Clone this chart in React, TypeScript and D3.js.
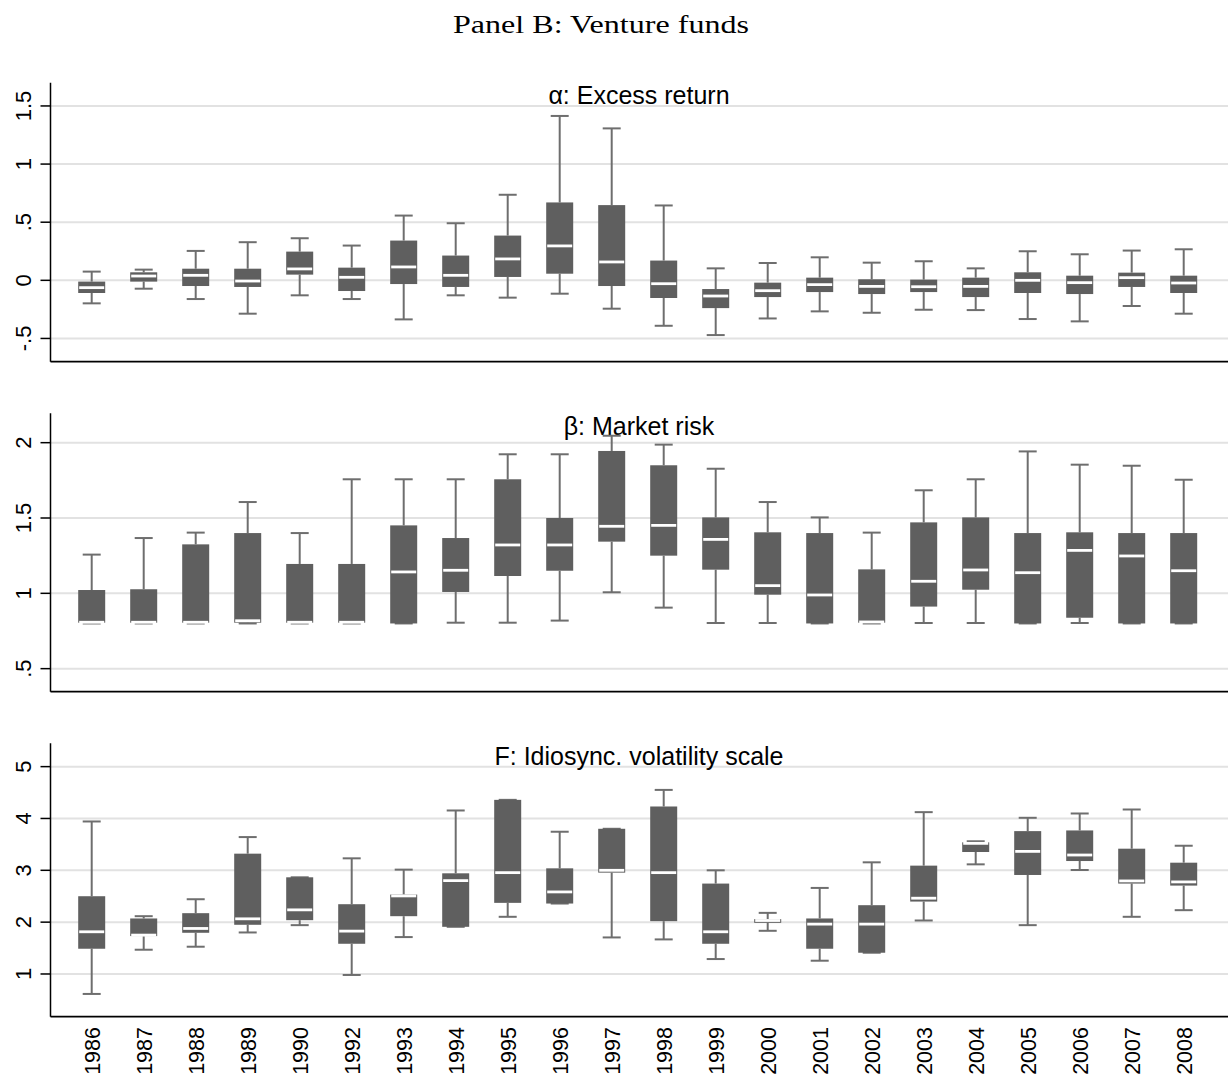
import React from "react";
import * as d3 from "d3";

const years = ["1986","1987","1988","1989","1990","1992","1993","1994","1995","1996","1997","1998","1999","2000","2001","2002","2003","2004","2005","2006","2007","2008"];

// Panel A: alpha (excess return)
const alphaLo  = [-0.198,-0.072,-0.161,-0.287,-0.129,-0.161,-0.336,-0.129,-0.149,-0.115,-0.244,-0.391,-0.471,-0.328,-0.267,-0.279,-0.253,-0.256,-0.333,-0.353,-0.221,-0.287];
const alphaQ1  = [-0.109,-0.011,-0.049,-0.057,0.049,-0.092,-0.032,-0.057,0.029,0.057,-0.049,-0.152,-0.239,-0.144,-0.101,-0.118,-0.101,-0.144,-0.109,-0.118,-0.057,-0.109];
const alphaMed = [-0.063,0.037,0.043,-0.006,0.098,0.026,0.115,0.043,0.184,0.296,0.158,-0.029,-0.135,-0.089,-0.037,-0.052,-0.055,-0.052,0.0,-0.020,0.023,-0.023];
const alphaQ3  = [-0.011,0.069,0.100,0.100,0.247,0.109,0.342,0.213,0.385,0.670,0.647,0.170,-0.075,-0.020,0.023,0.009,0.006,0.023,0.069,0.040,0.066,0.040];
const alphaHi  = [0.075,0.092,0.253,0.328,0.362,0.299,0.557,0.491,0.736,1.414,1.307,0.644,0.103,0.149,0.198,0.152,0.164,0.103,0.250,0.224,0.256,0.267];

// Panel B: beta (market risk)
const betaLo  = [0.80,0.80,0.80,0.80,0.80,0.80,0.80,0.805,0.805,0.819,1.007,0.905,0.803,0.803,0.80,0.80,0.803,0.803,0.80,0.803,0.80,0.80];
const betaQ1  = [0.805,0.805,0.805,0.805,0.805,0.805,0.80,1.009,1.115,1.150,1.343,1.250,1.157,0.991,0.80,0.805,0.912,1.024,0.80,0.838,0.80,0.80];
const betaMed = [0.808,0.808,0.808,0.818,0.808,0.808,1.142,1.153,1.321,1.321,1.445,1.451,1.358,1.051,0.989,0.81,1.080,1.155,1.137,1.285,1.248,1.150];
const betaQ3  = [1.022,1.027,1.325,1.400,1.195,1.195,1.451,1.367,1.757,1.500,1.945,1.850,1.504,1.405,1.400,1.159,1.471,1.504,1.400,1.405,1.400,1.400];
const betaHi  = [1.257,1.367,1.403,1.606,1.400,1.757,1.757,1.757,1.923,1.923,2.046,1.987,1.827,1.606,1.504,1.403,1.684,1.757,1.942,1.854,1.847,1.754];

// Panel C: F (idiosyncratic volatility scale)
const fLo  = [0.615,1.468,1.526,1.801,1.942,0.981,1.712,1.910,2.103,2.359,1.705,1.667,1.288,1.833,1.256,1.410,2.032,3.115,1.942,3.006,2.103,2.231];
const fQ1  = [1.487,1.731,1.795,1.949,2.038,1.583,2.115,1.910,2.372,2.359,2.955,2.019,1.583,1.987,1.487,1.410,2.397,3.353,2.910,3.179,2.744,2.705];
const fMed = [1.814,1.750,1.878,2.064,2.237,1.827,2.506,2.801,2.955,2.583,3.000,2.955,1.814,2.032,1.962,1.962,2.462,3.520,3.365,3.295,2.795,2.776];
const fQ3  = [2.500,2.071,2.173,3.321,2.865,2.346,2.532,2.942,4.359,3.038,3.801,4.231,2.744,2.058,2.071,2.327,3.090,3.540,3.756,3.769,3.417,3.147];
const fHi  = [3.942,2.115,2.442,3.641,2.865,3.231,3.013,4.154,4.359,3.744,3.801,4.551,3.000,2.179,2.660,3.154,4.122,3.560,4.013,4.096,4.173,3.474];

const panelTitles = ["α: Excess return", "β: Market risk", "F: Idiosync. volatility scale"];
const panelDomains: [number, number][] = [[-0.7, 1.7], [0.347, 2.195], [0.176, 5.45]];
const panelTicks = [[-0.5, 0, 0.5, 1, 1.5], [0.5, 1, 1.5, 2], [1, 2, 3, 4, 5]];
const mainTitle = "Panel B: Venture funds";

const W = 1228, H = 1082;
const plotLeft = 50.5, plotRight = 1228;
const panelTops = [82.7, 413.3, 743.3];
const panelBottoms = [361.7, 691.7, 1016.7];

const sans = "'Liberation Sans', Arial, Helvetica, sans-serif";

function fmt(v: number): string {
  let s = String(+v.toFixed(2));
  s = s.replace(/^0\./, ".").replace(/^-0\./, "-.");
  return s;
}

export default function App() {
  const x = d3.scalePoint<string>().domain(years).range([91.7, 1183.7]);
  const boxW = 27, capW = 18;
  const series = [
    [alphaLo, alphaQ1, alphaMed, alphaQ3, alphaHi],
    [betaLo, betaQ1, betaMed, betaQ3, betaHi],
    [fLo, fQ1, fMed, fQ3, fHi],
  ];

  return (
    <svg width={W} height={H} style={{ position: "absolute", left: 0, top: 0, background: "#fff" }}>
      <rect x={0} y={0} width={W} height={H} fill="#fff" />
      <text x={601} y={33} textAnchor="middle" fontFamily="'Liberation Serif', 'Times New Roman', serif" fontSize={26} textLength={296} lengthAdjust="spacingAndGlyphs" fill="#000">{mainTitle}</text>
      {series.map((s, pi) => {
        const [lo, q1, med, q3, hi] = s;
        const y = d3.scaleLinear().domain(panelDomains[pi]).range([panelBottoms[pi], panelTops[pi]]);
        const top = panelTops[pi], bottom = panelBottoms[pi];
        return (
          <g key={pi}>
            {panelTicks[pi].map((t) => (
              <g key={t}>
                <line x1={plotLeft} x2={plotRight} y1={y(t)} y2={y(t)} stroke="#e2e2e2" strokeWidth={2} />
                <line x1={plotLeft - 10} x2={plotLeft} y1={y(t)} y2={y(t)} stroke="#000" strokeWidth={1.5} />
                <text transform={`translate(30.5,${y(t)}) rotate(-90)`} textAnchor="middle" fontFamily={sans} fontSize={22} fill="#000">{fmt(t)}</text>
              </g>
            ))}
            <text x={639} y={top + 21.3} textAnchor="middle" fontFamily={sans} fontSize={25} fill="#000">{panelTitles[pi]}</text>
            {years.map((yr, i) => {
              const cx = x(yr)!;
              return (
                <g key={yr}>
                  <line x1={cx} x2={cx} y1={y(q3[i])} y2={y(hi[i])} stroke="#6e6e6e" strokeWidth={2} />
                  <line x1={cx} x2={cx} y1={y(q1[i])} y2={y(lo[i])} stroke="#6e6e6e" strokeWidth={2} />
                  <line x1={cx - capW / 2} x2={cx + capW / 2} y1={y(hi[i])} y2={y(hi[i])} stroke="#6e6e6e" strokeWidth={2} />
                  <line x1={cx - capW / 2} x2={cx + capW / 2} y1={y(lo[i])} y2={y(lo[i])} stroke="#6e6e6e" strokeWidth={2} />
                  <rect x={cx - boxW / 2} y={y(q3[i])} width={boxW} height={Math.max(0.5, y(q1[i]) - y(q3[i]))} fill="#5f5f5f" />
                  <line x1={cx - boxW / 2 + 1} x2={cx + boxW / 2 - 1} y1={y(med[i])} y2={y(med[i])} stroke="#fff" strokeWidth={2.8} />
                </g>
              );
            })}
            <line x1={plotLeft} x2={plotLeft} y1={top} y2={bottom} stroke="#000" strokeWidth={1.5} />
            <line x1={plotLeft} x2={plotRight} y1={bottom} y2={bottom} stroke="#000" strokeWidth={1.8} />
          </g>
        );
      })}
      {years.map((yr) => (
        <text key={yr} transform={`translate(${x(yr)! + 8},1027) rotate(-90)`} textAnchor="end" fontFamily={sans} fontSize={21.5} fill="#000">{yr}</text>
      ))}
    </svg>
  );
}
